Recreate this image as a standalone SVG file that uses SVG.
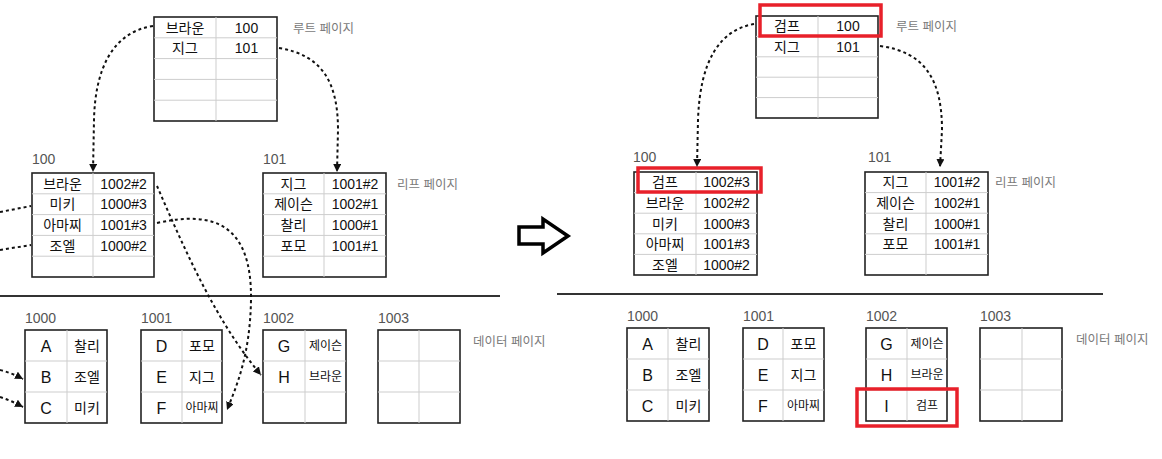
<svg xmlns="http://www.w3.org/2000/svg" width="1162" height="459" viewBox="0 0 1162 459">
<style>
.tb{fill:#fff;stroke:#222;stroke-width:1.6}
.gr{stroke:#cdcdcd;stroke-width:1}
.t{font-family:"Liberation Sans","Noto Sans CJK KR",sans-serif;font-size:14px;fill:#111;text-anchor:middle}
.s{font-size:12px}
.L{font-size:16px}
.lbl{font-family:"Liberation Sans","Noto Sans CJK KR",sans-serif;font-size:14px;fill:#555}
.cap{font-family:"Liberation Sans","Noto Sans CJK KR",sans-serif;font-size:12.5px;fill:#7a7a7a}
.con{fill:none;stroke:#111;stroke-width:2;stroke-dasharray:3 3}
.red{fill:none;stroke:#e8202a;stroke-width:3.5}
.div{stroke:#333;stroke-width:2.2}
</style>
<defs>
<marker id="ah" markerUnits="userSpaceOnUse" markerWidth="9" markerHeight="9" refX="8" refY="4" orient="auto">
<path d="M0,0 L8,4 L0,8 z" fill="#111"/>
</marker>
</defs>
<rect width="1162" height="459" fill="#fff"/>

<!-- ================= LEFT (before) ================= -->
<g id="root-left">
<rect class="tb" x="154" y="17" width="123" height="104"/>
<line class="gr" x1="216" y1="17" x2="216" y2="121"/>
<line class="gr" x1="154" y1="37.8" x2="277" y2="37.8"/>
<line class="gr" x1="154" y1="58.6" x2="277" y2="58.6"/>
<line class="gr" x1="154" y1="79.4" x2="277" y2="79.4"/>
<line class="gr" x1="154" y1="100.2" x2="277" y2="100.2"/>
<text class="t" x="185" y="32.5">브라운</text><text class="t" x="246.5" y="32.5">100</text>
<text class="t" x="185" y="53.3">지그</text><text class="t" x="246.5" y="53.3">101</text>
<text class="cap" x="293" y="33">루트 페이지</text>
</g>

<g id="leaf100-left">
<text class="lbl" x="32" y="164">100</text>
<rect class="tb" x="32" y="173" width="122" height="104"/>
<line class="gr" x1="93" y1="173" x2="93" y2="277"/>
<line class="gr" x1="32" y1="193.8" x2="154" y2="193.8"/>
<line class="gr" x1="32" y1="214.6" x2="154" y2="214.6"/>
<line class="gr" x1="32" y1="235.4" x2="154" y2="235.4"/>
<line class="gr" x1="32" y1="256.2" x2="154" y2="256.2"/>
<text class="t" x="62.5" y="188.5">브라운</text><text class="t" x="123.5" y="188.5">1002#2</text>
<text class="t" x="62.5" y="209.3">미키</text><text class="t" x="123.5" y="209.3">1000#3</text>
<text class="t" x="62.5" y="230.1">아마찌</text><text class="t" x="123.5" y="230.1">1001#3</text>
<text class="t" x="62.5" y="250.9">조엘</text><text class="t" x="123.5" y="250.9">1000#2</text>
</g>

<g id="leaf101-left">
<text class="lbl" x="263" y="164">101</text>
<rect class="tb" x="263" y="173" width="123" height="104"/>
<line class="gr" x1="324" y1="173" x2="324" y2="277"/>
<line class="gr" x1="263" y1="193.8" x2="386" y2="193.8"/>
<line class="gr" x1="263" y1="214.6" x2="386" y2="214.6"/>
<line class="gr" x1="263" y1="235.4" x2="386" y2="235.4"/>
<line class="gr" x1="263" y1="256.2" x2="386" y2="256.2"/>
<text class="t" x="293.5" y="188.5">지그</text><text class="t" x="355" y="188.5">1001#2</text>
<text class="t" x="293.5" y="209.3">제이슨</text><text class="t" x="355" y="209.3">1002#1</text>
<text class="t" x="293.5" y="230.1">찰리</text><text class="t" x="355" y="230.1">1000#1</text>
<text class="t" x="293.5" y="250.9">포모</text><text class="t" x="355" y="250.9">1001#1</text>
<text class="cap" x="397" y="189">리프 페이지</text>
</g>

<line class="div" x1="0" y1="296" x2="500" y2="296"/>

<g id="data1000-left">
<text class="lbl" x="25" y="323">1000</text>
<rect class="tb" x="25" y="330" width="82" height="93"/>
<line class="gr" x1="67" y1="330" x2="67" y2="423"/>
<line class="gr" x1="25" y1="361" x2="107" y2="361"/>
<line class="gr" x1="25" y1="392" x2="107" y2="392"/>
<text class="t L" x="46" y="351.5">A</text><text class="t" x="87" y="351">찰리</text>
<text class="t L" x="46" y="382.5">B</text><text class="t" x="87" y="382">조엘</text>
<text class="t L" x="46" y="413.5">C</text><text class="t" x="87" y="413">미키</text>
</g>

<g id="data1001-left">
<text class="lbl" x="141" y="323">1001</text>
<rect class="tb" x="141" y="330" width="81" height="93"/>
<line class="gr" x1="182" y1="330" x2="182" y2="423"/>
<line class="gr" x1="141" y1="361" x2="222" y2="361"/>
<line class="gr" x1="141" y1="392" x2="222" y2="392"/>
<text class="t L" x="161.5" y="351.5">D</text><text class="t" x="202" y="351">포모</text>
<text class="t L" x="161.5" y="382.5">E</text><text class="t" x="202" y="382">지그</text>
<text class="t L" x="161.5" y="413.5">F</text><text class="t s" x="202" y="412">아마찌</text>
</g>

<g id="data1002-left">
<text class="lbl" x="263" y="323">1002</text>
<rect class="tb" x="263" y="330" width="83" height="93"/>
<line class="gr" x1="305" y1="330" x2="305" y2="423"/>
<line class="gr" x1="263" y1="361" x2="346" y2="361"/>
<line class="gr" x1="263" y1="392" x2="346" y2="392"/>
<text class="t L" x="284" y="351.5">G</text><text class="t s" x="325.5" y="350">제이슨</text>
<text class="t L" x="284" y="382.5">H</text><text class="t s" x="325.5" y="381">브라운</text>
</g>

<g id="data1003-left">
<text class="lbl" x="378" y="323">1003</text>
<rect class="tb" x="378" y="330" width="82" height="93"/>
<line class="gr" x1="419" y1="330" x2="419" y2="423"/>
<line class="gr" x1="378" y1="361" x2="460" y2="361"/>
<line class="gr" x1="378" y1="392" x2="460" y2="392"/>
<text class="cap" x="473" y="346">데이터 페이지</text>
</g>

<!-- arrow between -->
<g id="transition">
<polygon points="519,227 543,227 543,219 568,236 543,253 543,244 519,244" fill="#fff" stroke="#000" stroke-width="3.5" stroke-linejoin="miter"/>
</g>

<!-- ================= RIGHT (after) ================= -->
<g id="root-right">
<rect class="tb" x="756" y="16" width="122" height="102"/>
<line class="gr" x1="818" y1="16" x2="818" y2="118"/>
<line class="gr" x1="756" y1="36.4" x2="878" y2="36.4"/>
<line class="gr" x1="756" y1="56.8" x2="878" y2="56.8"/>
<line class="gr" x1="756" y1="77.2" x2="878" y2="77.2"/>
<line class="gr" x1="756" y1="97.6" x2="878" y2="97.6"/>
<text class="t" x="787" y="31.2">검프</text><text class="t" x="848" y="31.2">100</text>
<text class="t" x="787" y="51.6">지그</text><text class="t" x="848" y="51.6">101</text>
<rect class="red" x="760" y="5" width="121" height="31"/>
<text class="cap" x="896" y="31">루트 페이지</text>
</g>

<g id="leaf100-right">
<text class="lbl" x="633" y="162">100</text>
<rect class="tb" x="634" y="172" width="123" height="103"/>
<line class="gr" x1="696" y1="172" x2="696" y2="275"/>
<line class="gr" x1="634" y1="192.6" x2="757" y2="192.6"/>
<line class="gr" x1="634" y1="213.2" x2="757" y2="213.2"/>
<line class="gr" x1="634" y1="233.8" x2="757" y2="233.8"/>
<line class="gr" x1="634" y1="254.4" x2="757" y2="254.4"/>
<text class="t" x="665" y="187.3">검프</text><text class="t" x="726.5" y="187.3">1002#3</text>
<text class="t" x="665" y="207.9">브라운</text><text class="t" x="726.5" y="207.9">1002#2</text>
<text class="t" x="665" y="228.5">미키</text><text class="t" x="726.5" y="228.5">1000#3</text>
<text class="t" x="665" y="249.1">아마찌</text><text class="t" x="726.5" y="249.1">1001#3</text>
<text class="t" x="665" y="269.7">조엘</text><text class="t" x="726.5" y="269.7">1000#2</text>
<rect class="red" x="638" y="168" width="123" height="24"/>
</g>

<g id="leaf101-right">
<text class="lbl" x="868" y="162">101</text>
<rect class="tb" x="865" y="172" width="123" height="103"/>
<line class="gr" x1="926" y1="172" x2="926" y2="275"/>
<line class="gr" x1="865" y1="192.6" x2="988" y2="192.6"/>
<line class="gr" x1="865" y1="213.2" x2="988" y2="213.2"/>
<line class="gr" x1="865" y1="233.8" x2="988" y2="233.8"/>
<line class="gr" x1="865" y1="254.4" x2="988" y2="254.4"/>
<text class="t" x="895.5" y="187.3">지그</text><text class="t" x="957" y="187.3">1001#2</text>
<text class="t" x="895.5" y="207.9">제이슨</text><text class="t" x="957" y="207.9">1002#1</text>
<text class="t" x="895.5" y="228.5">찰리</text><text class="t" x="957" y="228.5">1000#1</text>
<text class="t" x="895.5" y="249.1">포모</text><text class="t" x="957" y="249.1">1001#1</text>
<text class="cap" x="995" y="187">리프 페이지</text>
</g>

<line class="div" x1="557" y1="294" x2="1103" y2="294"/>

<g id="data1000-right">
<text class="lbl" x="627" y="321">1000</text>
<rect class="tb" x="627" y="328" width="82" height="93"/>
<line class="gr" x1="668" y1="328" x2="668" y2="421"/>
<line class="gr" x1="627" y1="359" x2="709" y2="359"/>
<line class="gr" x1="627" y1="390" x2="709" y2="390"/>
<text class="t L" x="647.5" y="349.5">A</text><text class="t" x="688.5" y="349">찰리</text>
<text class="t L" x="647.5" y="380.5">B</text><text class="t" x="688.5" y="380">조엘</text>
<text class="t L" x="647.5" y="411.5">C</text><text class="t" x="688.5" y="411">미키</text>
</g>

<g id="data1001-right">
<text class="lbl" x="743" y="321">1001</text>
<rect class="tb" x="743" y="328" width="81" height="93"/>
<line class="gr" x1="783" y1="328" x2="783" y2="421"/>
<line class="gr" x1="743" y1="359" x2="824" y2="359"/>
<line class="gr" x1="743" y1="390" x2="824" y2="390"/>
<text class="t L" x="763" y="349.5">D</text><text class="t" x="803.5" y="349">포모</text>
<text class="t L" x="763" y="380.5">E</text><text class="t" x="803.5" y="380">지그</text>
<text class="t L" x="763" y="411.5">F</text><text class="t s" x="803.5" y="410">아마찌</text>
</g>

<g id="data1002-right">
<text class="lbl" x="866" y="321">1002</text>
<rect class="tb" x="866" y="328" width="81" height="93"/>
<line class="gr" x1="907" y1="328" x2="907" y2="421"/>
<line class="gr" x1="866" y1="359" x2="947" y2="359"/>
<line class="gr" x1="866" y1="390" x2="947" y2="390"/>
<text class="t L" x="886.5" y="349.5">G</text><text class="t s" x="927" y="348">제이슨</text>
<text class="t L" x="886.5" y="380.5">H</text><text class="t s" x="927" y="379">브라운</text>
<text class="t L" x="886.5" y="411.5">I</text><text class="t s" x="927" y="410">검프</text>
<rect class="red" x="857" y="389" width="100" height="37"/>
</g>

<g id="data1003-right">
<text class="lbl" x="980" y="321">1003</text>
<rect class="tb" x="980" y="328" width="82" height="93"/>
<line class="gr" x1="1022" y1="328" x2="1022" y2="421"/>
<line class="gr" x1="980" y1="359" x2="1062" y2="359"/>
<line class="gr" x1="980" y1="390" x2="1062" y2="390"/>
<text class="cap" x="1076" y="344">데이터 페이지</text>
</g>

<!-- ================= CONNECTORS ================= -->
<g id="connectors">
<path class="con" d="M153,26 C112,32 95,70 94,120 L93,172" marker-end="url(#ah)"/>
<path class="con" d="M279,48 C322,55 338,82 338,130 L337,172" marker-end="url(#ah)"/>
<path class="con" d="M0,212 L31,206"/>
<path class="con" d="M0,250 L31,245"/>
<path class="con" d="M0,370 Q12,373 23,379" marker-end="url(#ah)"/>
<path class="con" d="M0,397 Q12,401 23,407" marker-end="url(#ah)"/>
<path class="con" d="M157,186 C185,250 215,320 261,375" marker-end="url(#ah)"/>
<path class="con" d="M157,223 C215,210 252,225 251,300 C250,355 237,385 227,410" marker-end="url(#ah)"/>
<path class="con" d="M754,24 C720,30 700,60 698,120 L697,167" marker-end="url(#ah)"/>
<path class="con" d="M880,46 C925,52 942,80 942,130 L940,167" marker-end="url(#ah)"/>
</g>
</svg>
